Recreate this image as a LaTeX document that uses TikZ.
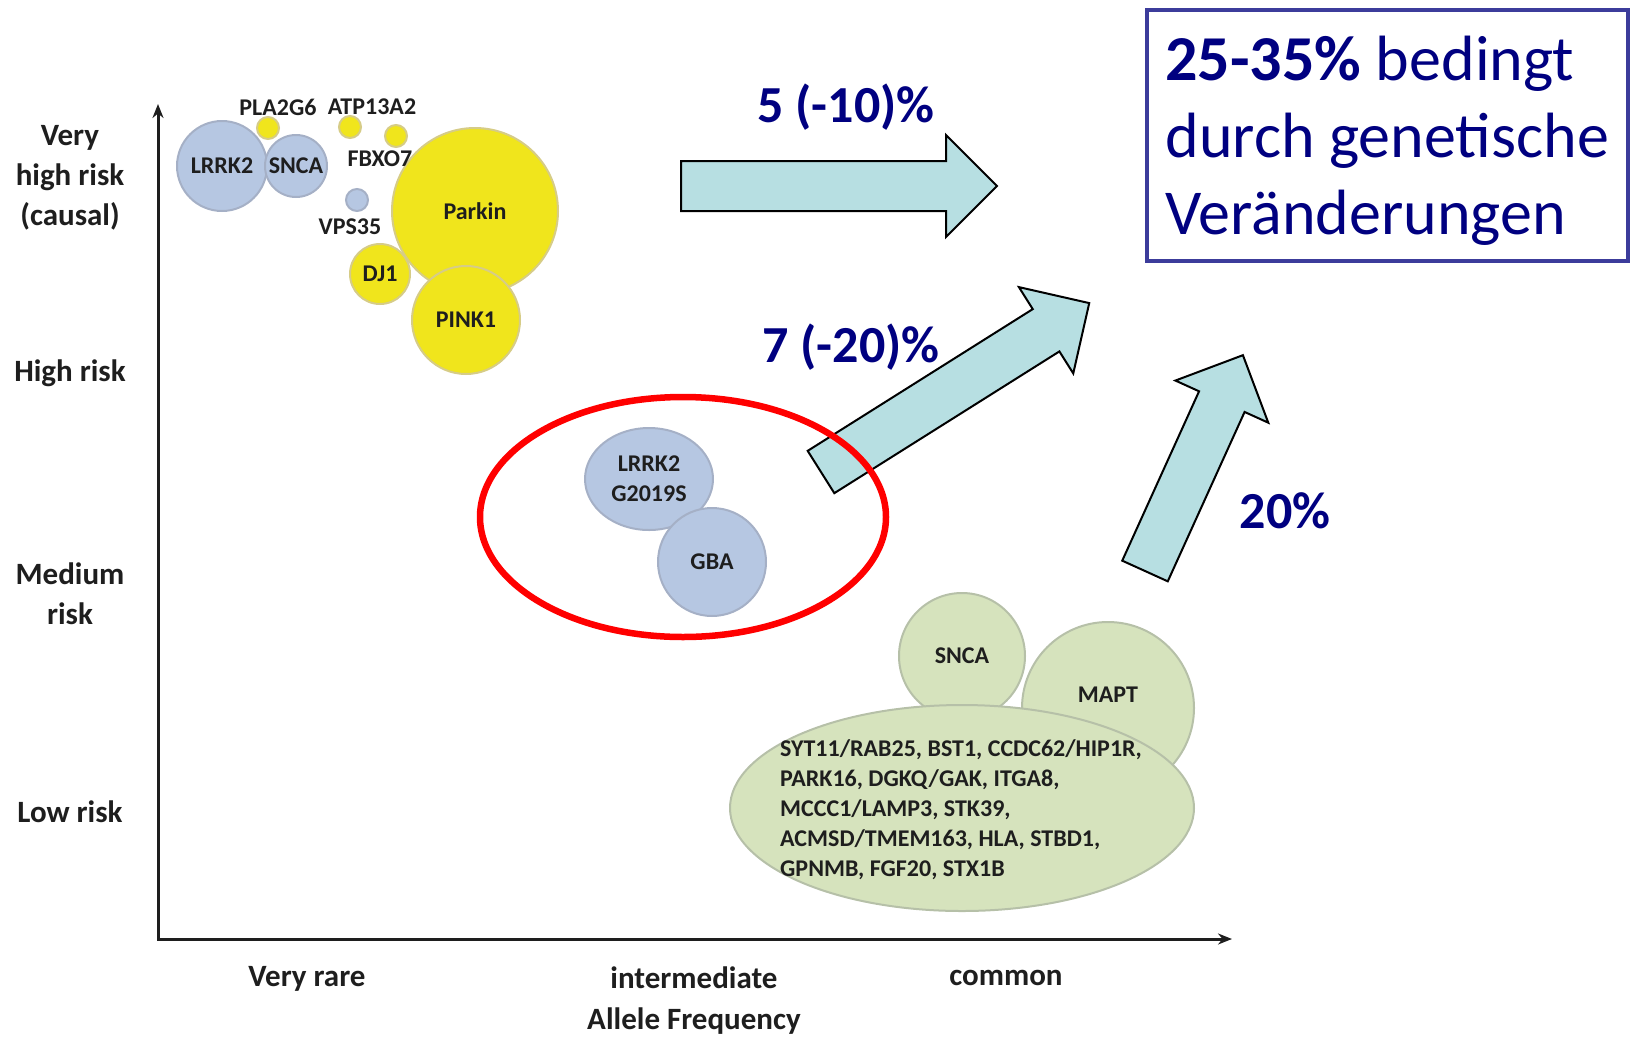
\documentclass[tikz,border=0pt]{standalone}
\usepackage{fontspec}
\setmainfont{Carlito}
\usetikzlibrary{shapes.geometric, arrows, arrows.meta, positioning, calc}
\usepackage{xcolor}
\definecolor{navytext}{RGB}{0, 0, 128}
\definecolor{boxframe}{RGB}{60, 60, 155}
\definecolor{arrowcyan}{RGB}{183, 223, 226}
\definecolor{bubbleblue}{RGB}{182, 199, 226}
\definecolor{blueedge}{RGB}{165, 176, 198}
\definecolor{bubbleyellow}{RGB}{240, 229, 28}
\definecolor{yellowedge}{RGB}{214, 204, 135}
\definecolor{bubblegreen}{RGB}{214, 227, 189}
\definecolor{greenedge}{RGB}{182, 192, 168}
\definecolor{labelgray}{RGB}{30, 30, 30}
\tikzstyle{axis} = [line width=3pt, {Stealth[length=14pt, width=11pt]}-{Stealth[length=14pt, width=11pt]}, labelgray]
\tikzstyle{risk} = [font=\fontsize{31}{40}\selectfont\bfseries, text=labelgray, align=center, inner sep=0pt]
\tikzstyle{gene} = [font=\fontsize{24}{30}\selectfont\bfseries, text=labelgray, inner sep=0pt, align=center]
\tikzstyle{bluebub} = [circle, draw=blueedge, line width=2pt, fill=bubbleblue, gene]
\tikzstyle{yellowbub} = [circle, draw=yellowedge, line width=2pt, fill=bubbleyellow, gene]
\tikzstyle{greenbub} = [circle, draw=greenedge, line width=2pt, fill=bubblegreen, gene]
\tikzstyle{blockarrow} = [draw=black, line width=2pt, fill=arrowcyan, line join=miter]
\tikzstyle{pct} = [font=\fontsize{52}{60}\selectfont\bfseries, text=navytext, anchor=base, inner sep=0pt]
\newcommand{\fatarrow}[3]{%
  \begin{scope}[shift={#1}, rotate=#2]
    \draw[blockarrow] (0,-25) -- ({#3-51},-25) -- ({#3-51},-51) -- (#3,0)
      -- ({#3-51},51) -- ({#3-51},25) -- (0,25) -- cycle;
  \end{scope}}

\begin{document}
\begin{tikzpicture}[x=1pt, y=-1pt]
\useasboundingbox (0,0) rectangle (1631,1037);

% causal genes
\node[yellowbub, minimum size=166pt] (parkin) at (475,211) {Parkin};
\node[yellowbub, minimum size=60pt] (dj) at (380,274) {DJ1};
\node[yellowbub, minimum size=108pt] (pink) at (466,320) {PINK1};
\node[yellowbub, minimum size=22pt] (pladot) at (268,128) {};
\node[yellowbub, minimum size=22pt] (atpdot) at (350,127) {};
\node[yellowbub, minimum size=22pt] (fbxdot) at (396,136) {};
\node[bluebub, minimum size=90pt] (lrrk) at (222,166) {LRRK2};
\node[bluebub, minimum size=62pt] (snca) at (296,166) {SNCA};
\node[bluebub, minimum size=22pt] (vpsdot) at (357,200) {};
\node[gene] (pla) at (278,107) {PLA2G6};
\node[gene] (atp) at (372,107) {ATP13A2};
\node[gene] (fbx) at (380,159) {FBXO7};
\node[gene] (vps) at (350,227) {VPS35};

% intermediate frequency
\node[bluebub, ellipse, minimum width=128pt, minimum height=102pt] (g2019) at (649,479) {LRRK2\\G2019S};
\node[bluebub, minimum size=108pt] (gba) at (712,562) {GBA};

% common variants
\node[greenbub, minimum size=126pt] (sncacommon) at (962,656) {SNCA};
\node[greenbub, minimum size=172pt] (mapt) at (1108,708) {};
\node[gene] (maptlabel) at (1108,695) {MAPT};
\node[greenbub, ellipse, minimum width=464pt, minimum height=206pt] (common) at (962,808) {};
\node[gene, align=left, anchor=north west] (riskloci) at (780,739)
  {SYT11/RAB25, BST1, CCDC62/HIP1R,\\PARK16, DGKQ/GAK, ITGA8,\\MCCC1/LAMP3, STK39,\\ACMSD/TMEM163, HLA, STBD1,\\GPNMB, FGF20, STX1B};

% axes
\coordinate (ytop) at (158,104);
\coordinate (origin) at (158,939);
\coordinate (xend) at (1232,939);
\draw[axis] (ytop) -- (origin) -- (xend);

\node[risk] (veryhigh) at (70,178) {Very\\high risk\\(causal)};
\node[risk] (high) at (70,373) {High risk};
\node[risk] (medium) at (70,594) {Medium\\risk};
\node[risk] (low) at (70,812) {Low risk};
\node[risk] (rare) at (307,979) {Very rare};
\node[risk] (inter) at (694,978) {intermediate};
\node[risk] (allele) at (694,1021) {Allele Frequency};
\node[risk] (frequent) at (1006,978) {common};

% contribution arrows
\fatarrow{(681,186)}{0}{316}
\fatarrow{(821,472)}{32.2}{317}
\fatarrow{(1145,571)}{65.6}{237}

\node[draw=red, line width=6.5pt, ellipse, minimum width=406pt, minimum height=240pt] (ring) at (683,517) {};

\node[pct] (pfive) at (846,122) {5 (-10)\%};
\node[pct] (pseven) at (851,362) {7 (-20)\%};
\node[pct] (ptwenty) at (1285,528) {20\%};

\node[draw=boxframe, line width=3.5pt, anchor=north west, minimum width=481pt, minimum height=251pt,
  inner xsep=15pt, inner ysep=0pt, align=left, text=navytext, font=\fontsize{64}{77}\selectfont] (summary)
  at (1145,8) {\rule{0pt}{56pt}\textbf{25-35\%} bedingt\\durch genetische\\Veränderungen};
\end{tikzpicture}
\end{document}
